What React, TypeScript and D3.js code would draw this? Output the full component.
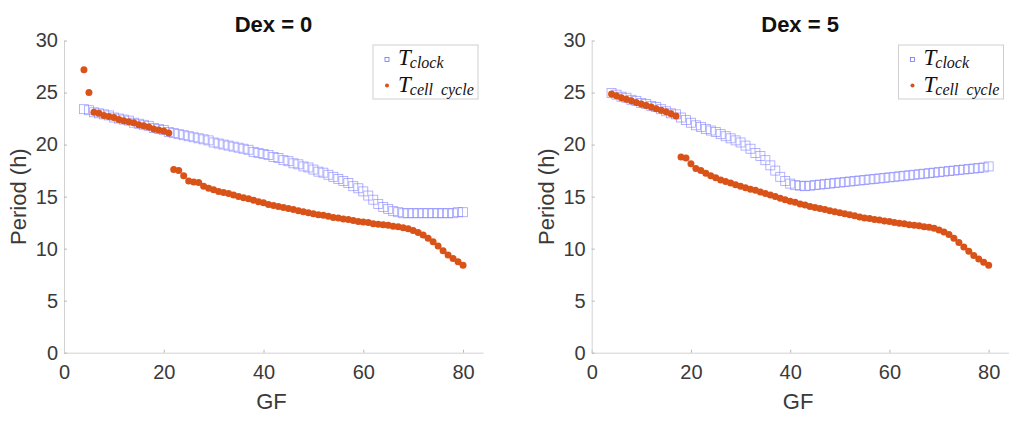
import { useEffect, useRef } from "react";
import * as d3 from "d3";

// growth factor levels shared by every series
const GF = [
  4, 5, 6, 7, 8, 9, 10, 11, 12, 13,
  14, 15, 16, 17, 18, 19, 20, 21, 22, 23,
  24, 25, 26, 27, 28, 29, 30, 31, 32, 33,
  34, 35, 36, 37, 38, 39, 40, 41, 42, 43,
  44, 45, 46, 47, 48, 49, 50, 51, 52, 53,
  54, 55, 56, 57, 58, 59, 60, 61, 62, 63,
  64, 65, 66, 67, 68, 69, 70, 71, 72, 73,
  74, 75, 76, 77, 78, 79, 80,
];

const CLOCK_DEX0 = [
  23.4, 23.3, 23.1, 23.0, 22.9, 22.8, 22.6, 22.5, 22.4, 22.3,
  22.1, 22.0, 21.9, 21.8, 21.6, 21.5, 21.4, 21.2, 21.1, 21.0,
  20.9, 20.8, 20.7, 20.6, 20.5, 20.4, 20.2, 20.1, 20.0, 19.9,
  19.8, 19.7, 19.6, 19.5, 19.3, 19.2, 19.1, 19.0, 18.8, 18.7,
  18.5, 18.4, 18.2, 18.1, 17.9, 17.8, 17.6, 17.4, 17.3, 17.1,
  16.9, 16.7, 16.5, 16.3, 16.0, 15.8, 15.5, 15.1, 14.7, 14.3,
  14.0, 13.8, 13.6, 13.5, 13.4, 13.4, 13.4, 13.4, 13.4, 13.4,
  13.4, 13.4, 13.4, 13.4, 13.4, 13.5, 13.5,
];

const CELL_DEX0 = [
  27.2, 25.0, 23.1, 23.0, 22.8, 22.7, 22.6, 22.4, 22.3, 22.2,
  22.1, 21.9, 21.8, 21.7, 21.5, 21.4, 21.3, 21.1, 17.6, 17.5,
  17.0, 16.5, 16.4, 16.35, 16.0, 15.8, 15.65, 15.5, 15.4, 15.3,
  15.15, 15.0, 14.9, 14.8, 14.65, 14.5, 14.4, 14.25, 14.15, 14.05,
  13.95, 13.85, 13.75, 13.65, 13.55, 13.45, 13.35, 13.25, 13.2, 13.1,
  13.0, 12.95, 12.85, 12.8, 12.7, 12.6, 12.55, 12.5, 12.4, 12.35,
  12.3, 12.25, 12.15, 12.1, 12.0, 11.9, 11.75, 11.55, 11.3, 11.0,
  10.65, 10.25, 9.8, 9.4, 9.05, 8.75, 8.4,
];

const CLOCK_DEX5 = [
  24.95, 24.8, 24.6, 24.5, 24.3, 24.2, 24.0, 23.9, 23.7, 23.6,
  23.4, 23.2, 23.0, 22.9, 22.6, 22.35, 22.1, 21.85, 21.7, 21.5,
  21.35, 21.2, 21.0, 20.8, 20.6, 20.4, 20.2, 19.9, 19.6, 19.2,
  18.9, 18.5, 18.0, 17.5, 16.9, 16.5, 16.25, 16.1, 16.05, 16.0,
  16.05, 16.1, 16.15, 16.2, 16.25, 16.3, 16.35, 16.4, 16.45, 16.5,
  16.55, 16.6, 16.65, 16.7, 16.75, 16.8, 16.85, 16.9, 16.95, 17.0,
  17.05, 17.1, 17.15, 17.2, 17.25, 17.3, 17.35, 17.4, 17.45, 17.5,
  17.55, 17.6, 17.65, 17.7, 17.75, 17.8, 17.9,
];

const CELL_DEX5 = [
  24.85, 24.7, 24.5, 24.35, 24.2, 24.05, 23.9, 23.75, 23.6, 23.45,
  23.3, 23.15, 22.95, 22.75, 18.8, 18.7, 18.15, 17.7, 17.5, 17.25,
  17.0, 16.8, 16.6, 16.45, 16.3, 16.15, 16.0, 15.85, 15.7, 15.6,
  15.45, 15.3, 15.15, 15.0, 14.85, 14.7, 14.55, 14.45, 14.3, 14.2,
  14.05, 13.95, 13.85, 13.75, 13.65, 13.55, 13.45, 13.35, 13.25, 13.15,
  13.05, 12.95, 12.9, 12.8, 12.75, 12.65, 12.6, 12.5, 12.45, 12.4,
  12.3, 12.25, 12.2, 12.1, 12.05, 11.95, 11.8, 11.6, 11.35, 11.0,
  10.6, 10.15, 9.75, 9.35, 9.0, 8.7, 8.4,
];

const X_TICKS = [0, 20, 40, 60, 80];
const Y_TICKS = [0, 5, 10, 15, 20, 25, 30];

const PANELS = [
  { title: "Dex = 0", clock: CLOCK_DEX0, cell: CELL_DEX0, x0: 64, x1: 483, labelX: 26 },
  { title: "Dex = 5", clock: CLOCK_DEX5, cell: CELL_DEX5, x0: 591.7, x1: 1008.5, labelX: 554 },
];

const W = 1023;
const H = 421;
const TOP = 40.5;
const BOTTOM = 352.7;
const SANS = "'Liberation Sans', Arial, Helvetica, sans-serif";
const SERIF = "'Liberation Serif', 'Times New Roman', serif";
const CLOCK_COLOR = "#7070ff";
const CELL_COLOR = "#d95319";
const AXIS_COLOR = "#d2d2d2";
const TEXT_COLOR = "#3a3a3a";

export default function App() {
  const svgRef = useRef<SVGSVGElement>(null);

  useEffect(() => {
    const svg = svgRef.current;
    if (!svg) return;
    const s = d3.select(svg);
    s.selectAll("*").remove();
    s.append("rect").attr("width", W).attr("height", H).attr("fill", "#fff");

    PANELS.forEach((p) => {
      const x = d3.scaleLinear().domain([0, 84]).range([p.x0, p.x1]);
      const y = d3.scaleLinear().domain([0, 30]).range([BOTTOM, TOP]);
      const g = s.append("g");

      // axes: left and bottom only, ticks pointing inward
      g.append("g")
        .attr("transform", `translate(0,${BOTTOM})`)
        .call(d3.axisBottom(x).tickValues(X_TICKS).tickSizeInner(-3).tickSizeOuter(0).tickPadding(12))
        .call((ax) => {
          ax.select(".domain").attr("stroke", AXIS_COLOR);
          ax.selectAll(".tick line").attr("stroke", "#b8b8b8");
          ax.selectAll("text")
            .attr("fill", TEXT_COLOR)
            .attr("font-size", 20)
            .style("font-family", SANS);
        });

      g.append("g")
        .attr("transform", `translate(${p.x0},0)`)
        .call(d3.axisLeft(y).tickValues(Y_TICKS).tickSizeInner(-3).tickSizeOuter(0).tickPadding(6))
        .call((ax) => {
          ax.select(".domain").attr("stroke", AXIS_COLOR);
          ax.selectAll(".tick line").attr("stroke", "#b8b8b8");
          ax.selectAll("text")
            .attr("fill", TEXT_COLOR)
            .attr("font-size", 20)
            .style("font-family", SANS);
        });

      const mid = (p.x0 + p.x1) / 2;
      g.append("text")
        .attr("x", mid)
        .attr("y", 32)
        .attr("text-anchor", "middle")
        .attr("font-size", 22)
        .attr("font-weight", "bold")
        .attr("fill", "#111")
        .style("font-family", SANS)
        .text(p.title);

      g.append("text")
        .attr("x", mid - 2)
        .attr("y", 409)
        .attr("text-anchor", "middle")
        .attr("font-size", 22)
        .attr("fill", TEXT_COLOR)
        .style("font-family", SANS)
        .text("GF");

      g.append("text")
        .attr("transform", `translate(${p.labelX},${(TOP + BOTTOM) / 2}) rotate(-90)`)
        .attr("text-anchor", "middle")
        .attr("font-size", 22)
        .attr("fill", TEXT_COLOR)
        .style("font-family", SANS)
        .text("Period (h)");

      // clock period: open squares
      const sq = 9;
      g.append("g")
        .selectAll("rect")
        .data(GF.map((gf, i) => [gf, p.clock[i]]))
        .join("rect")
        .attr("x", (d) => x(d[0]) - sq / 2)
        .attr("y", (d) => y(d[1]) - sq / 2)
        .attr("width", sq)
        .attr("height", sq)
        .attr("fill", "none")
        .attr("stroke", CLOCK_COLOR)
        .attr("stroke-width", 0.8)
        .attr("stroke-opacity", 0.65);

      // cell cycle period: filled dots
      g.append("g")
        .selectAll("circle")
        .data(GF.map((gf, i) => [gf, p.cell[i]]))
        .join("circle")
        .attr("cx", (d) => x(d[0]))
        .attr("cy", (d) => y(d[1]))
        .attr("r", 3.5)
        .attr("fill", CELL_COLOR);

      // legend
      const lx = p.x1 - 110;
      const lg = g.append("g").attr("transform", `translate(${lx},45)`);
      lg.append("rect")
        .attr("width", 105)
        .attr("height", 54)
        .attr("fill", "#fff")
        .attr("stroke", "#cfcfcf")
        .attr("stroke-width", 1);
      lg.append("rect")
        .attr("x", 12)
        .attr("y", 12.5)
        .attr("width", 4)
        .attr("height", 4)
        .attr("fill", "none")
        .attr("stroke", CLOCK_COLOR)
        .attr("stroke-width", 0.8);
      lg.append("circle").attr("cx", 14).attr("cy", 40.5).attr("r", 2).attr("fill", CELL_COLOR);

      const entries = [
        { sub: "clock", y: 20 },
        { sub: "cell\u2002cycle", y: 47 },
      ];
      entries.forEach((e) => {
        const t = lg
          .append("text")
          .attr("x", 25)
          .attr("y", e.y)
          .attr("fill", "#111")
          .style("font-family", SERIF)
          .style("font-style", "italic");
        t.append("tspan").attr("font-size", 23).text("T");
        t.append("tspan").attr("font-size", 16).attr("dy", 3).attr("dx", -1).text(e.sub);
      });
    });
  }, []);

  return (
    <svg
      ref={svgRef}
      width={W}
      height={H}
      style={{ position: "absolute", left: 0, top: 0, display: "block" }}
    />
  );
}
